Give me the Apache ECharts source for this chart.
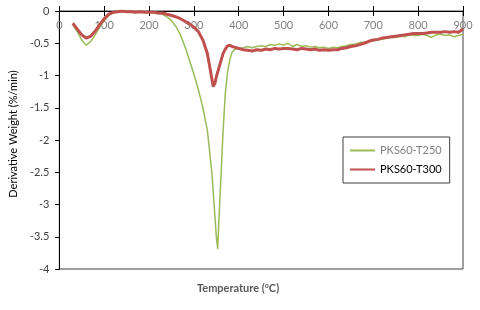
<!DOCTYPE html>
<html>
<head>
<meta charset="utf-8">
<script src="https://cdn.jsdelivr.net/npm/echarts@6/dist/echarts.min.js"></script>
<style>html,body{margin:0;padding:0;background:#fff;}#c{width:480px;height:310px;}</style>
</head>
<body>
<div id="c"></div>
<script>
var xTicks = [0, 100, 200, 300, 400, 500, 600, 700, 800, 900];
var yTicks = [0, -0.5, -1, -1.5, -2, -2.5, -3, -3.5, -4];

var seriesNames = ['PKS60-T250', 'PKS60-T300'];

var tempT250 = [30,40,50,60,70,80,90,100,110,120,130,140,150,160,170,180,190,200,210,220,230,240,250,260,270,280,290,300,310,320,330,340,345,350,353,356,360,363,366,370,375,380,385,390,400,410,420,430,440,450,460,470,480,490,500,510,520,530,540,550,560,570,580,590,600,610,620,630,640,650,660,670,680,690,700,710,720,730,740,750,760,770,780,790,800,810,820,830,840,850,860,870,880,890,900];
var valT250 = [-0.22,-0.32,-0.45,-0.53,-0.47,-0.37,-0.25,-0.15,-0.07,-0.03,-0.01,-0.02,-0.01,-0.02,-0.01,-0.02,-0.02,-0.02,-0.03,-0.04,-0.05,-0.09,-0.15,-0.24,-0.37,-0.55,-0.76,-0.98,-1.22,-1.50,-1.85,-2.50,-2.99,-3.50,-3.69,-3.20,-2.63,-2.16,-1.75,-1.28,-0.95,-0.76,-0.64,-0.60,-0.58,-0.57,-0.55,-0.57,-0.55,-0.54,-0.55,-0.52,-0.53,-0.51,-0.53,-0.50,-0.55,-0.52,-0.55,-0.54,-0.56,-0.55,-0.57,-0.56,-0.58,-0.56,-0.57,-0.55,-0.54,-0.52,-0.51,-0.49,-0.48,-0.47,-0.46,-0.45,-0.44,-0.42,-0.41,-0.41,-0.39,-0.40,-0.37,-0.38,-0.38,-0.36,-0.38,-0.41,-0.37,-0.36,-0.38,-0.37,-0.40,-0.38,-0.36];

var tempT300 = [30,40,50,60,70,80,90,100,110,120,130,140,150,160,170,180,190,200,210,220,230,240,250,260,270,280,290,300,310,320,330,335,340,343,347,350,355,360,365,370,375,380,385,390,400,410,420,430,440,450,460,470,480,490,500,510,520,530,540,550,560,570,580,590,600,610,620,630,640,650,660,670,680,690,700,710,720,730,740,750,760,770,780,790,800,810,820,830,840,850,860,870,880,890,900];
var valT300 = [-0.19,-0.28,-0.37,-0.42,-0.39,-0.31,-0.21,-0.12,-0.05,-0.02,-0.01,0.00,-0.01,-0.01,-0.02,-0.01,-0.02,-0.02,-0.02,-0.03,-0.03,-0.05,-0.07,-0.09,-0.12,-0.16,-0.20,-0.25,-0.32,-0.45,-0.66,-0.85,-1.05,-1.17,-1.12,-1.02,-0.90,-0.78,-0.66,-0.59,-0.54,-0.53,-0.55,-0.56,-0.58,-0.60,-0.61,-0.62,-0.60,-0.61,-0.59,-0.60,-0.58,-0.59,-0.58,-0.58,-0.59,-0.60,-0.58,-0.59,-0.60,-0.59,-0.61,-0.60,-0.61,-0.60,-0.60,-0.58,-0.57,-0.55,-0.54,-0.52,-0.50,-0.47,-0.45,-0.44,-0.42,-0.41,-0.40,-0.39,-0.38,-0.37,-0.36,-0.35,-0.35,-0.35,-0.34,-0.33,-0.33,-0.33,-0.32,-0.33,-0.32,-0.33,-0.28];

function pairs(xs, ys) { return xs.map(function (x, i) { return [x, ys[i]]; }); }

var FONT = 'Lato';
var chart = echarts.init(document.getElementById('c'), null, { renderer: 'canvas' });
var axX = {
  type: 'value', min: xTicks[0], max: xTicks[xTicks.length - 1], interval: 100, position: 'top',
  axisLine: { show: true, onZero: false, lineStyle: { color: '#000', width: 1 } },
  splitLine: { show: false }
};
var axY = {
  type: 'value', min: yTicks[yTicks.length - 1], max: yTicks[0], interval: 0.5,
  axisLine: { show: true, lineStyle: { color: '#000', width: 1 } },
  splitLine: { show: false }
};
chart.setOption({
  animation: false,
  textStyle: { fontFamily: FONT },
  title: {
    text: 'Temperature ({s|o}C)', left: 192, top: 277,
    textStyle: { fontFamily: FONT, fontSize: 11, fontWeight: 'bold', color: '#595959',
      rich: { s: { fontSize: 7, fontWeight: 'bold', color: '#595959', verticalAlign: 'top', padding: [0, 0, 5, 0], fontFamily: FONT } } }
  },
  grid: { left: 52, right: 17, top: 11, bottom: 41, show: true, borderColor: '#404040', borderWidth: 1, backgroundColor: 'transparent' },
  xAxis: [
    Object.assign({}, axX, {
      axisTick: { show: true, inside: true, length: 5, lineStyle: { color: '#000' } },
      axisLabel: { inside: true, margin: 9, color: '#808080', fontSize: 11, fontFamily: FONT }
    }),
    Object.assign({}, axX, {
      axisTick: { show: true, inside: false, length: 5, lineStyle: { color: '#000' } },
      axisLabel: { show: false }
    })
  ],
  yAxis: [
    Object.assign({}, axY, {
      name: 'Derivative Weight (%/min)', nameLocation: 'middle', nameGap: 39,
      nameTextStyle: { fontSize: 11, color: '#000', fontFamily: FONT, padding: [0, 0, 0, 12] },
      axisTick: { show: true, inside: false, length: 4, lineStyle: { color: '#000' } },
      axisLabel: { margin: 10, color: '#404040', fontSize: 11, fontFamily: FONT }
    }),
    Object.assign({}, axY, {
      axisTick: { show: true, inside: true, length: 4, lineStyle: { color: '#000' } },
      axisLabel: { show: false }
    })
  ],
  legend: {
    orient: 'vertical', left: 343, top: 137,
    padding: [8, 8, 8, 6], itemGap: 8, itemWidth: 25, itemHeight: 12,
    borderColor: '#404040', borderWidth: 1,
    itemStyle: { opacity: 0 },
    textStyle: { fontSize: 11, fontFamily: FONT },
    data: [
      { name: seriesNames[0], textStyle: { color: '#7f7f7f' } },
      { name: seriesNames[1], textStyle: { color: '#000' } }
    ]
  },
  series: [
    { name: seriesNames[0], type: 'line', xAxisIndex: 0, yAxisIndex: 0, symbol: 'none', showSymbol: false,
      data: pairs(tempT250, valT250), lineStyle: { color: '#9BBB59', width: 1.5 }, itemStyle: { color: '#9BBB59' } },
    { name: seriesNames[1], type: 'line', xAxisIndex: 0, yAxisIndex: 0, symbol: 'none', showSymbol: false,
      data: pairs(tempT300, valT300), lineStyle: { color: '#C0504D', width: 3 }, itemStyle: { color: '#C0504D' } }
  ]
});
</script>
</body>
</html>
